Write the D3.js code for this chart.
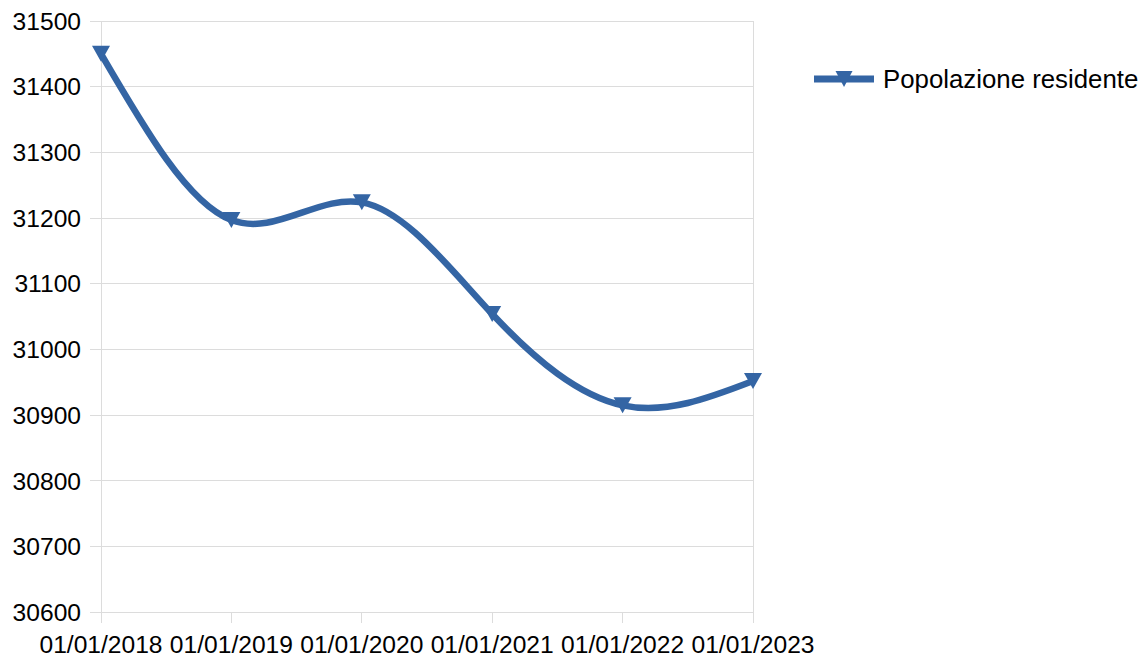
<!DOCTYPE html>
<html>
<head>
<meta charset="utf-8">
<script src="https://cdn.jsdelivr.net/npm/d3@7/dist/d3.min.js"></script>
<style>
  html, body { margin: 0; padding: 0; background: #fff; }
  svg { display: block; font-family: "Liberation Sans", Arial, sans-serif; }
</style>
</head>
<body>
<svg id="chart" width="1144" height="659"></svg>
<script>
const categories = ["01/01/2018", "01/01/2019", "01/01/2020", "01/01/2021", "01/01/2022", "01/01/2023"];
const population = [31450, 31197, 31224, 31054, 30915, 30952];
const yTicks = [30600, 30700, 30800, 30900, 31000, 31100, 31200, 31300, 31400, 31500];
const seriesName = "Popolazione residente";

(function () {
const color = "#3465a4";
const gridColor = "#dcdcdc";
const svg = d3.select("#chart");

const pLeft = 101, pRight = 753, pTop = 21, pBottom = 612.3;

const x = d3.scalePoint().domain(categories).range([pLeft, pRight]);
const y = d3.scaleLinear().domain([30600, 31500]).range([pBottom, pTop]);

// horizontal gridlines
svg.append("g").selectAll("line").data(yTicks).join("line")
  .attr("x1", pLeft - 11).attr("x2", pRight)
  .attr("y1", d => y(d)).attr("y2", d => y(d))
  .attr("stroke", gridColor).attr("stroke-width", 1).attr("shape-rendering", "crispEdges");

// vertical borders + ticks
svg.append("line").attr("x1", pLeft).attr("x2", pLeft).attr("y1", pTop).attr("y2", pBottom + 11)
  .attr("stroke", gridColor).attr("shape-rendering", "crispEdges");
svg.append("line").attr("x1", pRight).attr("x2", pRight).attr("y1", pTop).attr("y2", pBottom + 11)
  .attr("stroke", gridColor).attr("shape-rendering", "crispEdges");
svg.append("g").selectAll("line").data(categories).join("line")
  .attr("x1", d => x(d)).attr("x2", d => x(d))
  .attr("y1", pBottom).attr("y2", pBottom + 11)
  .attr("stroke", gridColor).attr("shape-rendering", "crispEdges");

// y labels
svg.append("g").selectAll("text").data(yTicks).join("text")
  .attr("x", 81).attr("y", d => y(d)).attr("dy", "0.35em")
  .attr("text-anchor", "end").attr("font-size", 24.6).attr("fill", "#000")
  .text(d => d);

// x labels
svg.append("g").selectAll("text").data(categories).join("text")
  .attr("x", d => x(d)).attr("y", 653)
  .attr("text-anchor", "middle").attr("font-size", 24.6).attr("fill", "#000")
  .text(d => d);

// line
const data = categories.map((c, i) => ({c, v: population[i]}));
const line = d3.line().x(d => x(d.c)).y(d => y(d.v)).curve(d3.curveNatural);
svg.append("path").datum(data).attr("d", line)
  .attr("fill", "none").attr("stroke", color).attr("stroke-width", 6.5)
  .attr("stroke-linejoin", "round");

// markers: downward triangles
const tri = (cx, cy, w, h) => `M${cx - w/2},${cy - h/2}L${cx + w/2},${cy - h/2}L${cx},${cy + h/2}Z`;
svg.append("g").selectAll("path").data(data).join("path")
  .attr("d", d => tri(x(d.c), y(d.v), 18, 16))
  .attr("fill", color);

// legend
const lg = svg.append("g");
lg.append("line").attr("x1", 814).attr("x2", 874).attr("y1", 79).attr("y2", 79)
  .attr("stroke", color).attr("stroke-width", 7);
lg.append("path").attr("d", tri(844, 79, 17, 16)).attr("fill", color);
lg.append("text").attr("x", 883).attr("y", 87.5).attr("font-size", 25.8).attr("fill", "#000")
  .text(seriesName);
})();
</script>
</body>
</html>
